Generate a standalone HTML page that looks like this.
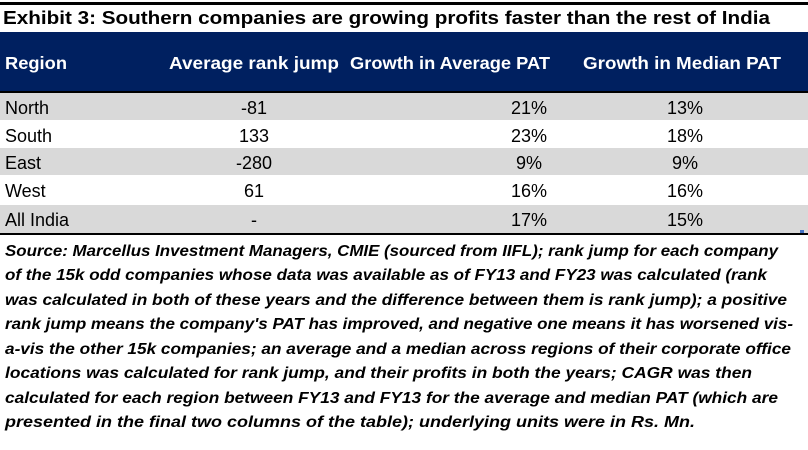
<!DOCTYPE html>
<html><head><meta charset="utf-8"><style>
html,body{margin:0;padding:0;background:#fff;}
svg{display:block;font-family:"Liberation Sans",sans-serif;}
</style></head><body>
<svg width="808" height="450" viewBox="0 0 808 450">
<rect x="0" y="2" width="808" height="3" fill="#000"/>
<text x="3" y="24" font-size="18" font-weight="bold" fill="#000" textLength="767" lengthAdjust="spacingAndGlyphs">Exhibit 3: Southern companies are growing profits faster than the rest of India</text>
<rect x="0" y="32" width="808" height="59" fill="#002060"/>
<rect x="0" y="91" width="808" height="2" fill="#000"/>
<g font-size="17.5" font-weight="bold" fill="#fff">
<text x="5" y="69" textLength="62" lengthAdjust="spacingAndGlyphs">Region</text>
<text x="254" y="69" text-anchor="middle" textLength="170" lengthAdjust="spacingAndGlyphs">Average rank jump</text>
<text x="450" y="69" text-anchor="middle" textLength="200" lengthAdjust="spacingAndGlyphs">Growth in Average PAT</text>
<text x="682" y="69" text-anchor="middle" textLength="198" lengthAdjust="spacingAndGlyphs">Growth in Median PAT</text>
</g>
<rect x="0" y="93" width="808" height="27" fill="#d9d9d9"/>
<rect x="0" y="148" width="808" height="27" fill="#d9d9d9"/>
<rect x="0" y="205" width="808" height="28" fill="#d9d9d9"/>
<rect x="0" y="233" width="808" height="2" fill="#000"/>
<rect x="800" y="230" width="4" height="3" fill="#4472c4"/>
<g font-size="18" fill="#000">
<text x="5" y="114">North</text>
<text x="254" y="114" text-anchor="middle">-81</text>
<text x="529" y="114" text-anchor="middle">21%</text>
<text x="685" y="114" text-anchor="middle">13%</text>
<text x="5" y="142">South</text>
<text x="254" y="142" text-anchor="middle">133</text>
<text x="529" y="142" text-anchor="middle">23%</text>
<text x="685" y="142" text-anchor="middle">18%</text>
<text x="5" y="169">East</text>
<text x="254" y="169" text-anchor="middle">-280</text>
<text x="529" y="169" text-anchor="middle">9%</text>
<text x="685" y="169" text-anchor="middle">9%</text>
<text x="5" y="197">West</text>
<text x="254" y="197" text-anchor="middle">61</text>
<text x="529" y="197" text-anchor="middle">16%</text>
<text x="685" y="197" text-anchor="middle">16%</text>
<text x="5" y="226">All India</text>
<text x="254" y="226" text-anchor="middle">-</text>
<text x="529" y="226" text-anchor="middle">17%</text>
<text x="685" y="226" text-anchor="middle">15%</text>
</g>
<g font-size="15.5" font-weight="bold" font-style="italic" fill="#000">
<text x="5" y="256" textLength="773" lengthAdjust="spacingAndGlyphs">Source: Marcellus Investment Managers, CMIE (sourced from IIFL); rank jump for each company</text>
<text x="5" y="280" textLength="762" lengthAdjust="spacingAndGlyphs">of the 15k odd companies whose data was available as of FY13 and FY23 was calculated (rank</text>
<text x="5" y="305" textLength="782" lengthAdjust="spacingAndGlyphs">was calculated in both of these years and the difference between them is rank jump); a positive</text>
<text x="5" y="329" textLength="788" lengthAdjust="spacingAndGlyphs">rank jump means the company's PAT has improved, and negative one means it has worsened vis-</text>
<text x="5" y="354" textLength="786" lengthAdjust="spacingAndGlyphs">a-vis the other 15k companies; an average and a median across regions of their corporate office</text>
<text x="5" y="378" textLength="747" lengthAdjust="spacingAndGlyphs">locations was calculated for rank jump, and their profits in both the years; CAGR was then</text>
<text x="5" y="403" textLength="773" lengthAdjust="spacingAndGlyphs">calculated for each region between FY13 and FY13 for the average and median PAT (which are</text>
<text x="5" y="427" textLength="690" lengthAdjust="spacingAndGlyphs">presented in the final two columns of the table); underlying units were in Rs. Mn.</text>
</g>
</svg>
</body></html>
